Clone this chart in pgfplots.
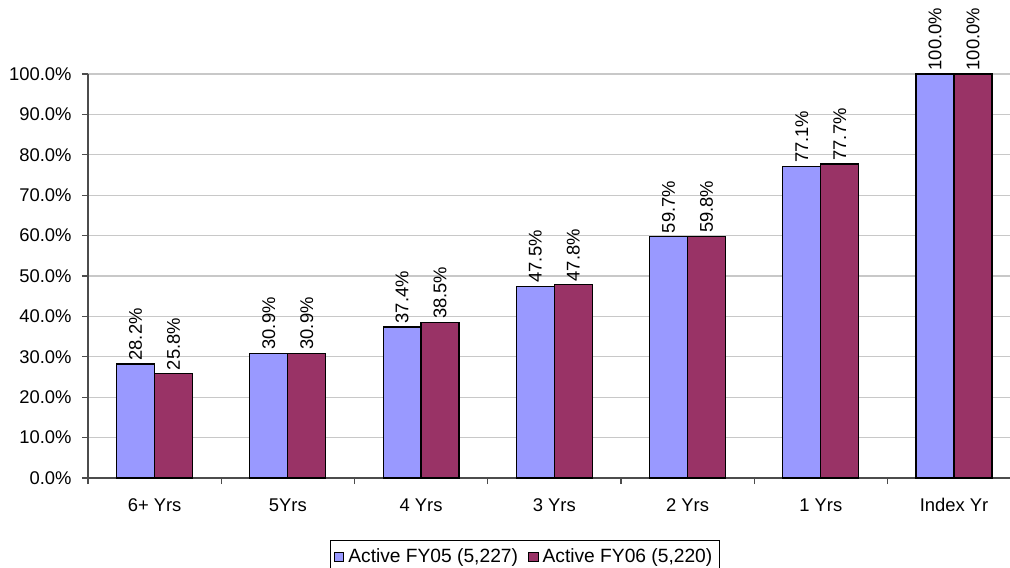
\documentclass[border=0pt]{standalone}
\usepackage{pgfplots}
\pgfplotsset{compat=1.18}
\usepackage{fontspec}
\setmainfont{Liberation Sans}
\definecolor{barblue}{HTML}{9999FF}
\definecolor{barred}{HTML}{993366}
\definecolor{gridgray}{HTML}{C8C8C8}
\begin{document}
\fontsize{9.2}{10}\selectfont
\begin{tikzpicture}
\useasboundingbox (-44pt,-44.5pt) rectangle (461pt,239pt);
\begin{axis}[
  scale only axis,
  width=461pt, height=202pt,
  xmin=-0.5, xmax=6.42,
  ymin=0, ymax=100,
  ybar=0pt, bar width=0.285,
  axis lines*=left,
  axis line style={draw=black!70, line width=0.8pt},
  xtick={0,...,6},
  xticklabels={6+ Yrs,5Yrs,4 Yrs,3 Yrs,2 Yrs,1 Yrs,Index Yr},
  major x tick style={draw=none},
  minor xtick={-0.5,0.5,1.5,2.5,3.5,4.5,5.5},
  minor tick length=3pt,
  major tick length=3pt,
  tick align=outside,
  tick style={draw=black!70, line width=0.6pt},
  xticklabel style={yshift=-4pt},
  ytick={0,10,...,100},
  yticklabel={\pgfmathprintnumber[fixed,fixed zerofill,precision=1]{\tick}\%},
  yticklabel style={xshift=-2pt},
  ymajorgrids,
  grid style={draw=gridgray, line width=0.6pt},
  /pgf/number format/assume math mode=true,
  ticklabel style={font=\fontsize{9.2}{10}\selectfont},
  nodes near coords={\pgfmathprintnumber[fixed,fixed zerofill,precision=1]{\pgfplotspointmeta}\%},
  nodes near coords style={rotate=90, anchor=west, font=\fontsize{9.2}{10}\selectfont, inner sep=1.5pt},
  legend columns=2,
  legend style={at={(axis description cs:0.474,-0.1535)}, anchor=north,
    draw=black, line width=0.5pt, font=\fontsize{9.6}{10}\selectfont,
    inner xsep=1.5pt, inner ysep=2pt,
    /tikz/every even column/.append style={column sep=3pt}},
  legend image code/.code={\draw[#1, line width=0.5pt] (0pt,-2.4pt) rectangle (4.8pt,2.4pt);},
  clip=false,
]
\addplot[fill=barblue, draw=black, line width=0.6pt] coordinates {
  (0,28.2) (1,30.9) (2,37.4) (3,47.5) (4,59.7) (5,77.1) (6,100.0)};
\addlegendentry{Active FY05 (5,227)}
\addplot[fill=barred, draw=black, line width=0.6pt] coordinates {
  (0,25.8) (1,30.9) (2,38.5) (3,47.8) (4,59.8) (5,77.7) (6,100.0)};
\addlegendentry{Active FY06 (5,220)}
\end{axis}
\end{tikzpicture}
\end{document}
